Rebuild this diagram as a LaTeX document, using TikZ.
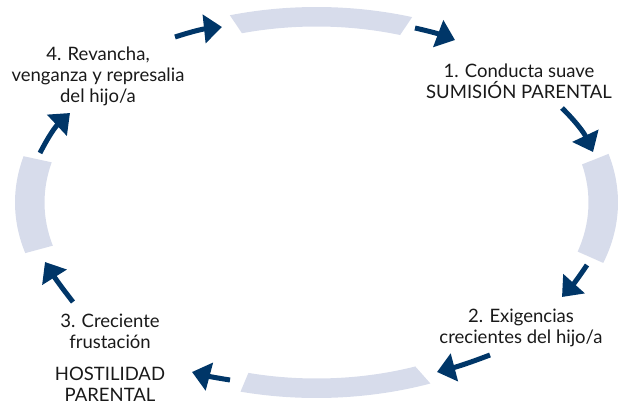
\documentclass[tikz,border=0pt]{standalone}
\usepackage{fontspec}
\setmainfont{Lato}
\usepackage{tikz}
\usetikzlibrary{positioning}
\usetikzlibrary{calc}
\usetikzlibrary{arrows.meta}
\definecolor{ringgray}{RGB}{215,220,235}
\definecolor{navy}{RGB}{0,54,104}

\begin{document}
\begin{tikzpicture}
  [
    x=1pt, y=1pt,
    lab/.style={
      align=center,
      anchor=base,
      font=\fontsize{18.5}{20.5}\selectfont,
      text=black!90,
      inner sep=0pt
    },
    ring/.style={fill=ringgray},
    cyc/.style={draw=navy, line width=5pt,
      -{Triangle[length=18pt,width=28pt]}}
  ]
  \useasboundingbox (0,0) rectangle (621,408);
  \coordinate (C) at (316.5,205.5);

  \fill [ring] ($(C)+(71.5:301.5pt and 195.5pt)$)
    arc [start angle=71.5, end angle=106.7, x radius=301.5pt, y radius=195.5pt]
    -- ($(C)+(105.9:272pt and 176pt)$)
    arc [start angle=105.9, end angle=72.1, x radius=272pt, y radius=176pt] -- cycle;
  \fill [ring] ($(C)+(-18:301.5pt and 195.5pt)$)
    arc [start angle=-18, end angle=14.4, x radius=301.5pt, y radius=195.5pt]
    -- ($(C)+(12.5:272pt and 176pt)$)
    arc [start angle=12.5, end angle=-16.2, x radius=272pt, y radius=176pt] -- cycle;
  \fill [ring] ($(C)+(255.4:301.5pt and 195.5pt)$)
    arc [start angle=255.4, end angle=292.2, x radius=301.5pt, y radius=195.5pt]
    -- ($(C)+(291.3:272pt and 176pt)$)
    arc [start angle=291.3, end angle=255.5, x radius=272pt, y radius=176pt] -- cycle;
  \fill [ring] ($(C)+(166.3:301.5pt and 195.5pt)$)
    arc [start angle=166.3, end angle=195, x radius=301.5pt, y radius=195.5pt]
    -- ($(C)+(194.2:272pt and 176pt)$)
    arc [start angle=194.2, end angle=166.8, x radius=272pt, y radius=176pt] -- cycle;

  \node (lab1) at (519,310) [lab] {1. Conducta suave\\SUMISIÓN PARENTAL};
  \node (lab2) at (521,65) [lab] {2. Exigencias\\crecientes del hijo/a};
  \node (lab3) at (110,60) [lab] {3. Creciente\\frustación};
  \node (lab3b) [lab, below=19pt of lab3] {HOSTILIDAD\\PARENTAL};
  \node (lab4) at (98,306) [lab] {4. Revancha,\\venganza y represalia\\del hijo/a};

  \coordinate (a1s) at (175,371);
  \coordinate (a1e) at (222,381);
  \coordinate (a2s) at (415,380);
  \coordinate (a2e) at (455,368);
  \coordinate (a3s) at (562,300);
  \coordinate (a3e) at (593,256);
  \coordinate (a4s) at (587,143);
  \coordinate (a4e) at (562,111);
  \coordinate (a5s) at (490,53);
  \coordinate (a5e) at (437,36);
  \coordinate (a6s) at (230,28);
  \coordinate (a6e) at (192,36);
  \coordinate (a7s) at (73,106);
  \coordinate (a7e) at (45,146);
  \coordinate (a8s) at (40,255);
  \coordinate (a8e) at (70,295);

  \draw [cyc] (a1s) to [bend left=6] (a1e);
  \draw [cyc] (a2s) to [bend left=4] (a2e);
  \draw [cyc] (a3s) to [bend left=10] (a3e);
  \draw [cyc] (a4s) to [bend left=4] (a4e);
  \draw [cyc] (a5s) to [bend left=3] (a5e);
  \draw [cyc] (a6s) to [bend left=3] (a6e);
  \draw [cyc] (a7s) to [bend left=3] (a7e);
  \draw [cyc] (a8s) to [bend left=10] (a8e);
\end{tikzpicture}
\end{document}
